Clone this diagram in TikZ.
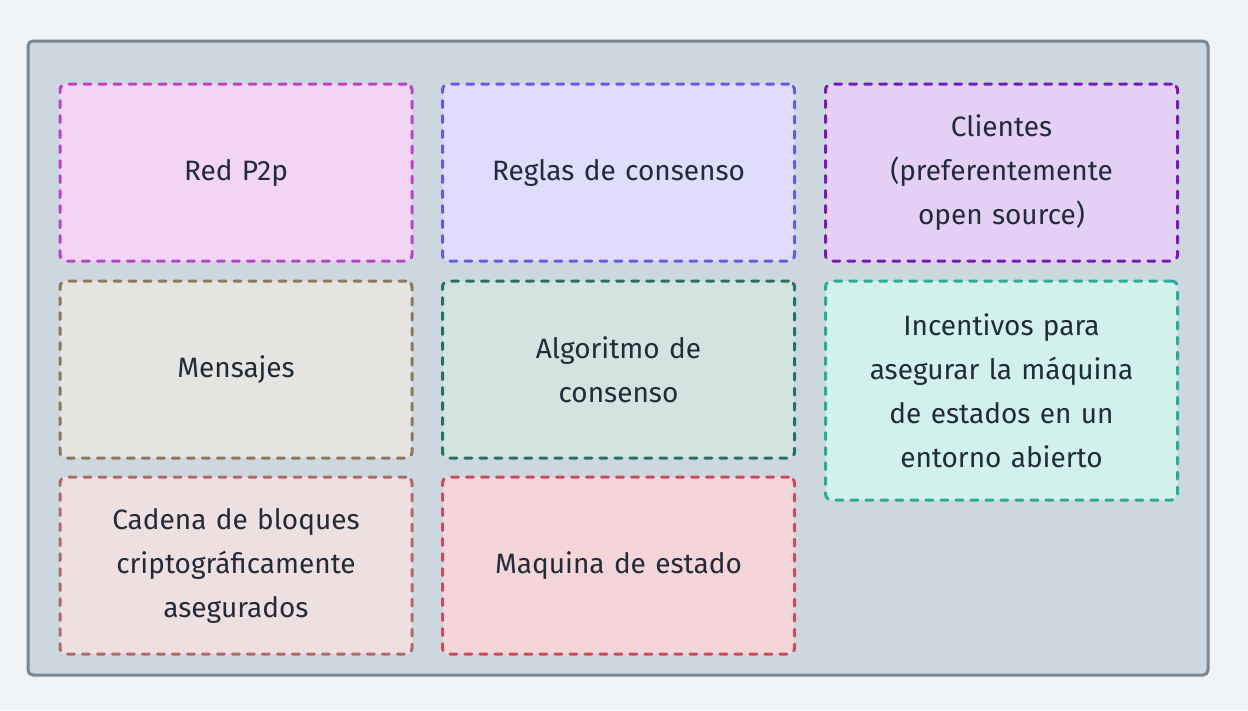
\documentclass[tikz,border=0pt]{standalone}
\usepackage{fontspec}
\setmainfont{Fira Sans}
\usetikzlibrary{positioning}

\definecolor{bgpage}{HTML}{EFF3F6}
\definecolor{framefill}{HTML}{CDD7DF}
\definecolor{framedraw}{HTML}{7A8690}
\definecolor{txt}{HTML}{222B38}

\begin{document}
\begin{tikzpicture}[
    x=1pt, y=-1pt,
    font=\fontsize{28}{44}\selectfont\color{txt},
    framebox/.style={draw=framedraw, fill=framefill, line width=3pt, rounded corners=5pt, minimum width=1180pt, minimum height=634pt},
    part/.style={dash pattern=on 7pt off 8pt, line cap=round, line width=3pt, rounded corners=6pt, minimum width=352pt, minimum height=177pt, align=center, text width=340pt},
    pink/.style={part, draw={rgb,255:red,184;green,68;blue,200}, fill={rgb,255:red,242;green,212;blue,244}},
    lilac/.style={part, draw={rgb,255:red,106;green,90;blue,224}, fill={rgb,255:red,224;green,220;blue,252}},
    violet/.style={part, draw={rgb,255:red,122;green,24;blue,184}, fill={rgb,255:red,228;green,208;blue,244}},
    khaki/.style={part, draw={rgb,255:red,138;green,122;blue,90}, fill={rgb,255:red,230;green,228;blue,224}},
    forest/.style={part, draw={rgb,255:red,42;green,112;blue,96}, fill={rgb,255:red,210;green,228;blue,224}},
    mint/.style={part, draw={rgb,255:red,42;green,170;blue,152}, fill={rgb,255:red,210;green,240;blue,236}},
    rosy/.style={part, draw={rgb,255:red,176;green,106;blue,106}, fill={rgb,255:red,238;green,223;blue,224}},
    crimson/.style={part, draw={rgb,255:red,204;green,74;blue,94}, fill={rgb,255:red,244;green,214;blue,218}}
]

    % fondo
    \fill[bgpage] (0,0) rectangle (1248,710);
    \useasboundingbox (0,0) rectangle (1248,710);

    % marco
    \node[framebox] (frame) at (618,358) {};

    % fila 1
    \node[pink] (p2p) at (236,172.5) {Red P2p};
    \node[lilac] (reglas) at (618.5,172.5) {Reglas de consenso};
    \node[violet] (clientes) at (1001.5,172.5) {Clientes\\(preferentemente\\open source)};

    % fila 2
    \node[khaki] (mensajes) at (236,369.5) {Mensajes};
    \node[forest] (algoritmo) at (618.5,369.5) {Algoritmo de\\consenso};
    \node[mint, minimum height=219pt] (incentivos) at (1001.5,390.5) {Incentivos para\\asegurar la máquina\\de estados en un\\entorno abierto};

    % fila 3
    \node[rosy] (cadena) at (236,565.5) {Cadena de bloques\\criptográficamente\\asegurados};
    \node[crimson] (maquina) at (618.5,565.5) {Maquina de estado};

\end{tikzpicture}
\end{document}
